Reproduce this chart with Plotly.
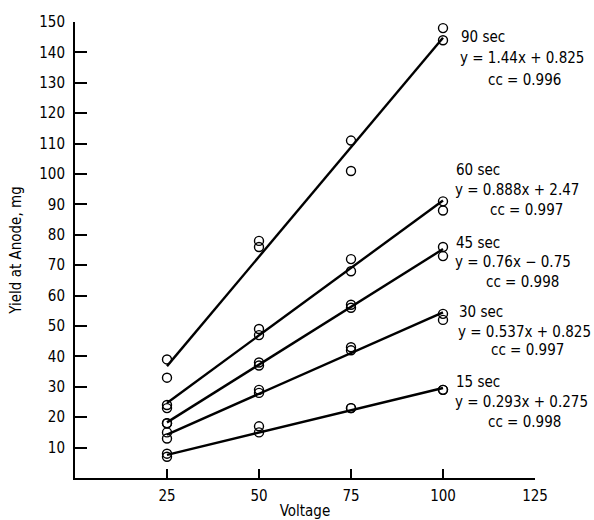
import plotly.graph_objects as go

# ---- data ----
voltage = [25, 25, 50, 50, 75, 75, 100, 100]
series_names = ["90 sec", "60 sec", "45 sec", "30 sec", "15 sec"]
yield_90 = [39, 33, 78, 76, 111, 101, 148, 144]
yield_60 = [24, 23, 49, 47, 72, 68, 91, 88]
yield_45 = [18, 18, 38, 37, 57, 56, 76, 73]
yield_30 = [15, 13, 29, 28, 43, 42, 54, 52]
yield_15 = [8, 7, 17, 15, 23, 23, 29, 29]

fit_x = [25, 100]
fit_start = [36.8, 24.7, 18.3, 14.3, 7.6]
fit_end = [144.8, 91.3, 75.3, 54.5, 29.6]

equations = ["y = 1.44x + 0.825", "y = 0.888x + 2.47", "y = 0.76x \u2212 0.75",
             "y = 0.537x + 0.825", "y = 0.293x + 0.275"]
cc_values = ["cc = 0.996", "cc = 0.997", "cc = 0.998", "cc = 0.997", "cc = 0.998"]

x_ticks = [25, 50, 75, 100, 125]
y_ticks = [10, 20, 30, 40, 50, 60, 70, 80, 90, 100, 110, 120, 130, 140, 150]

FONT = "DejaVu Sans Condensed, Liberation Sans Narrow, sans-serif"

# ---- figure ----
W, H = 594, 520
ML, MR, MT, MB = 75, 59, 22, 42
XMAX, YMAX = 125, 150

fig = go.Figure()
all_yields = [yield_90, yield_60, yield_45, yield_30, yield_15]
for name, ys, y0, y1 in zip(series_names, all_yields, fit_start, fit_end):
    fig.add_trace(go.Scatter(x=fit_x, y=[y0, y1], mode="lines",
                             line=dict(color="black", width=2.4),
                             showlegend=False, hoverinfo="skip"))
    fig.add_trace(go.Scatter(x=voltage, y=ys, mode="markers", name=name,
                             marker=dict(symbol="circle-open", size=9,
                                         color="black", line=dict(width=1.4)),
                             showlegend=False))

# label layout (pixel positions of the text blocks)
label_left_px = [459, 454, 454, 457, 454]
cc_center_px = [524, 526, 522, 527, 524]
title_py = [37, 170, 243, 312, 382]
eq_py = [58, 190, 262, 332, 402]
cc_py = [80, 210, 282, 350, 422]

plot_w = W - ML - MR
plot_h = H - MT - MB


def px_to_x(px):
    return (px - ML) / plot_w * XMAX


def py_to_y(py):
    return (H - MB - py) / plot_h * YMAX


tf = dict(family=FONT, size=15, color="black")
for i in range(5):
    fig.add_annotation(x=px_to_x(label_left_px[i]), y=py_to_y(title_py[i]),
                       text=series_names[i], showarrow=False,
                       xanchor="left", yanchor="middle", font=tf)
    fig.add_annotation(x=px_to_x(label_left_px[i] - 1), y=py_to_y(eq_py[i]),
                       text=equations[i], showarrow=False,
                       xanchor="left", yanchor="middle", font=tf)
    fig.add_annotation(x=px_to_x(cc_center_px[i]), y=py_to_y(cc_py[i]),
                       text=cc_values[i], showarrow=False,
                       xanchor="center", yanchor="middle", font=tf)

fig.update_layout(
    width=W, height=H,
    margin=dict(l=ML, r=MR, t=MT, b=MB, autoexpand=False),
    paper_bgcolor="white", plot_bgcolor="white",
    font=dict(family=FONT, size=15, color="black"),
    showlegend=False,
    xaxis=dict(range=[0, XMAX], tickvals=x_ticks, ticktext=[str(v) for v in x_ticks],
               showgrid=False, zeroline=False, showline=True, linecolor="black",
               linewidth=2, ticks="inside", ticklen=9, tickwidth=1.5, tickcolor="black",
               ticklabelstandoff=3, automargin=False,
               title=dict(text="Voltage", font=dict(family=FONT, size=15), standoff=2),
               tickfont=dict(family=FONT, size=15)),
    yaxis=dict(range=[0, YMAX], tickvals=y_ticks, ticktext=[str(v) for v in y_ticks],
               showgrid=False, zeroline=False, showline=True, linecolor="black",
               linewidth=2, ticks="inside", ticklen=12, tickwidth=1.5, tickcolor="black",
               ticklabelstandoff=5, automargin=False,
               title=dict(text="Yield at Anode, mg", font=dict(family=FONT, size=15), standoff=14),
               tickfont=dict(family=FONT, size=15)),
)

fig.write_html("out.html")
